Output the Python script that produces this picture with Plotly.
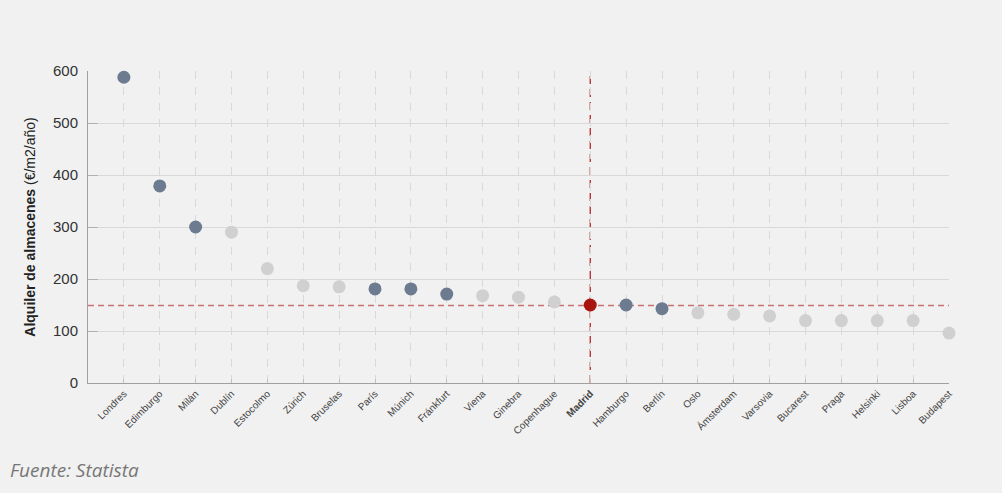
import plotly.graph_objects as go

cities = ["Londres", "Edimburgo", "Milán", "Dublín", "Estocolmo", "Zúrich", "Bruselas",
          "París", "Múnich", "Fránkfurt", "Viena", "Ginebra", "Copenhague", "Madrid",
          "Hamburgo", "Berlín", "Oslo", "Ámsterdam", "Varsovia", "Bucarest", "Praga",
          "Helsinki", "Lisboa", "Budapest"]
rent = [588, 379, 300, 290, 220, 187, 185, 181, 181, 171, 168, 165, 156, 150,
        150, 143, 135, 132, 129, 120, 120, 120, 120, 96]
group = ["d", "d", "d", "l", "l", "l", "l", "d", "d", "d", "l", "l", "l", "m",
         "d", "d", "l", "l", "l", "l", "l", "l", "l", "l"]
madrid_ref = 149
highlight = "Madrid"

color_map = {"d": "#6d7b90", "l": "#d0d0d1", "m": "#a8150e"}
colors = [color_map[g] for g in group]
tick_text = [f"<b>{c}</b>" if c == highlight else c for c in cities]
xs = list(range(len(cities)))

fig = go.Figure()
fig.add_trace(go.Scatter(
    x=xs, y=rent, mode="markers",
    marker=dict(size=13, color=colors, line=dict(width=0)),
    cliponaxis=False, showlegend=False, hoverinfo="x+y",
))

fig.add_shape(type="line", xref="paper", yref="y", x0=0, x1=1, y0=madrid_ref, y1=madrid_ref,
              line=dict(color="rgba(190,70,70,0.75)", width=1.5, dash="6px,4px"), layer="below")
fig.add_shape(type="line", xref="x", yref="paper", x0=cities.index(highlight), x1=cities.index(highlight),
              y0=0, y1=1, line=dict(color="#b0191a", width=1.2, dash="8px,5px"), layer="below")

fig.add_annotation(text="<i>Fuente: Statista</i>", xref="paper", yref="paper",
                   x=-0.093, y=-0.28, xanchor="left", yanchor="middle", showarrow=False,
                   font=dict(family="Open Sans", size=19, color="#777777"))

fig.update_layout(
    width=1002, height=493,
    paper_bgcolor="#f1f1f1", plot_bgcolor="#f1f1f1",
    margin=dict(l=88, r=53, t=71, b=110),
    font=dict(family="Liberation Sans, Arial", color="#333333"),
)
fig.update_xaxes(
    tickmode="array", tickvals=xs, ticktext=tick_text, range=[-1, 23],
    tickangle=-45, tickfont=dict(size=10, color="#444444"),
    showgrid=True, gridcolor="#d9d9d9", griddash="8px,8px", gridwidth=1,
    showline=True, linecolor="#a0a0a0", linewidth=1,
    ticks="inside", ticklen=4, tickcolor="#c0c0c0", zeroline=False,
)
fig.update_yaxes(
    range=[0, 600], tickvals=[0, 100, 200, 300, 400, 500, 600],
    tickfont=dict(size=15, color="#333333"), ticklabelstandoff=6,
    showgrid=True, gridcolor="#d9d9d9", gridwidth=1,
    showline=True, linecolor="#a0a0a0", linewidth=1,
    ticks="inside", ticklen=10, tickcolor="#b0b0b0", zeroline=False,
    title=dict(text="<b>Alquiler de almacenes</b> (€/m2/año)", font=dict(size=14, color="#222222"), standoff=14),
)

fig.write_html("out.html", config={"displayModeBar": False},
               post_script="document.body.style.margin='0';document.body.style.background='#f1f1f1';")
